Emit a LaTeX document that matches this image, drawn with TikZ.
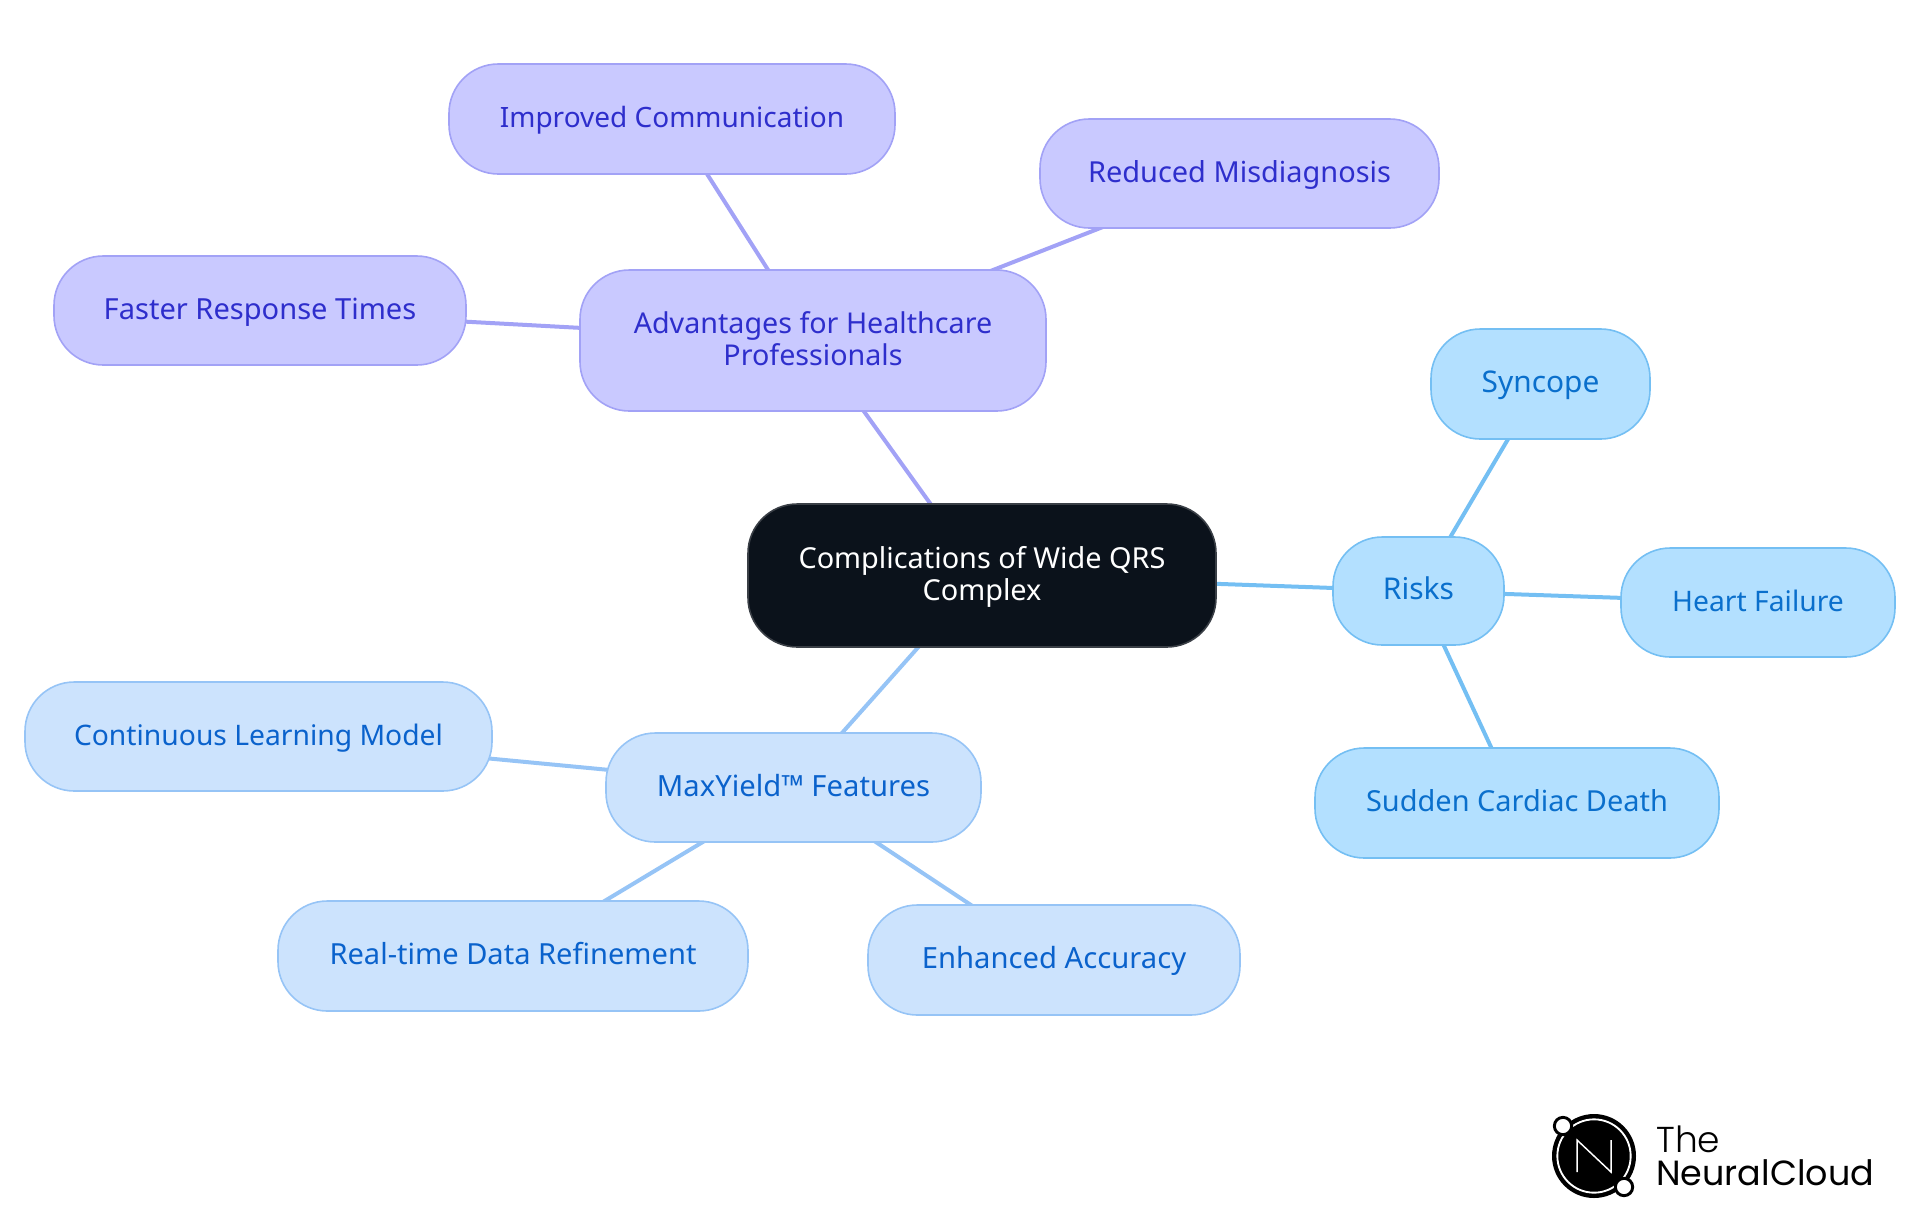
\documentclass[tikz,border=0pt]{standalone}
\usepackage{fontspec}
\setmainfont{Noto Sans}
\newfontfamily\logolight{Poppins Light}
\newfontfamily\logoreg{Poppins}
\usetikzlibrary{backgrounds}
\definecolor{pfill}{HTML}{C9C9FF}\definecolor{pline}{HTML}{A2A2F6}\definecolor{ptext}{HTML}{2E2ECC}
\definecolor{bfill}{HTML}{CCE3FD}\definecolor{bline}{HTML}{96C4F6}\definecolor{btext}{HTML}{0A62CC}
\definecolor{cfill}{HTML}{B3E0FF}\definecolor{cline}{HTML}{74BFF3}\definecolor{ctext}{HTML}{0A6FCC}
\definecolor{rootfill}{HTML}{0B121B}\definecolor{rootline}{HTML}{3A3F46}
\tikzset{
  x=0.75pt,y=-0.75pt,
  mind/.style={rectangle,rounded corners=37pt,line width=1.2pt,inner sep=0pt,align=center},
  fsz/.style={font=\fontsize{#1pt}{24pt}\selectfont},
  pnode/.style={mind,fill=pfill,draw=pline,text=ptext},
  bnode/.style={mind,fill=bfill,draw=bline,text=btext},
  cnode/.style={mind,fill=cfill,draw=cline,text=ctext},
  rootnode/.style={mind,fill=rootfill,draw=rootline,text=white},
  plink/.style={draw=pline,line width=3pt},
  blink/.style={draw=bline,line width=3pt},
  clink/.style={draw=cline,line width=3pt},
}
\newcommand{\tline}{\vphantom{dp}}
% name, left, top, right, bottom, style, text
\newcommand{\mnode}[7]{\node[#6,minimum width={(#4-#2)*0.75pt},minimum height={(#5-#3)*0.75pt}] (#1) at ({(#2+#4)/2},{(#3+#5)/2}) {\rule{0pt}{18pt}#7\tline};}
\begin{document}
\begin{tikzpicture}
\useasboundingbox (0,0) rectangle (1920,1215);
\mnode{root}{748}{504}{1216}{647}{rootnode,fsz=21.65}{Complications of Wide QRS\\Complex}
\mnode{adv}{580}{270}{1046}{411}{pnode,fsz=21.5}{Advantages for Healthcare\\Professionals}
\mnode{imp}{449}{64}{895}{174}{pnode,fsz=21}{Improved Communication}
\mnode{red}{1040}{119}{1439}{228}{pnode,fsz=21.7}{Reduced Misdiagnosis}
\mnode{fas}{54}{256}{466}{365}{pnode,fsz=21.8}{Faster Response Times}
\mnode{ris}{1333}{537}{1504}{645}{cnode,fsz=22.5}{Risks}
\mnode{syn}{1431}{329}{1650}{439}{cnode,fsz=22.4}{Syncope}
\mnode{hea}{1621}{548}{1895}{657}{cnode,fsz=21.2}{Heart Failure}
\mnode{sud}{1315}{748}{1719}{858}{cnode,fsz=21.7}{Sudden Cardiac Death}
\mnode{max}{606}{733}{981}{842}{bnode,fsz=21.9}{MaxYield™ Features}
\mnode{con}{25}{682}{492}{791}{bnode,fsz=21.2}{Continuous Learning Model}
\mnode{rea}{278}{901}{748}{1011}{bnode,fsz=21.8}{Real-time Data Refinement}
\mnode{enh}{868}{905}{1240}{1015}{bnode,fsz=21.9}{Enhanced Accuracy}
\begin{scope}[on background layer]
\draw[plink] (root.center) -- (adv.center);
\draw[plink] (adv.center) -- (imp.center);
\draw[plink] (adv.center) -- (red.center);
\draw[plink] (adv.center) -- (fas.center);
\draw[clink] (root.center) -- (ris.center);
\draw[clink] (ris.center) -- (syn.center);
\draw[clink] (ris.center) -- (hea.center);
\draw[clink] (ris.center) -- (sud.center);
\draw[blink] (root.center) -- (max.center);
\draw[blink] (max.center) -- (con.center);
\draw[blink] (max.center) -- (rea.center);
\draw[blink] (max.center) -- (enh.center);
\end{scope}
% logo
\fill[black] (1594,1156) circle (31.5pt);
\draw[white,line width=1.4pt] (1594,1156) circle (27.5pt);
\draw[white,line width=1.1pt,line join=miter] (1577,1172) -- (1577,1140) -- (1611,1172) -- (1611,1140);
\draw[black,fill=white,line width=2.2pt] (1563,1126) circle (6.5pt);
\draw[black,fill=white,line width=2.2pt] (1624,1187) circle (6.5pt);
\node[anchor=base west,inner sep=0pt,font=\logolight\fontsize{27pt}{27pt}\selectfont] (logothe) at (1656,1152) {The};
\node[anchor=base west,inner sep=0pt,font=\logoreg\fontsize{26.2pt}{26pt}\selectfont] (logoname) at (1656,1185) {NeuralCloud};
\end{tikzpicture}
\end{document}
